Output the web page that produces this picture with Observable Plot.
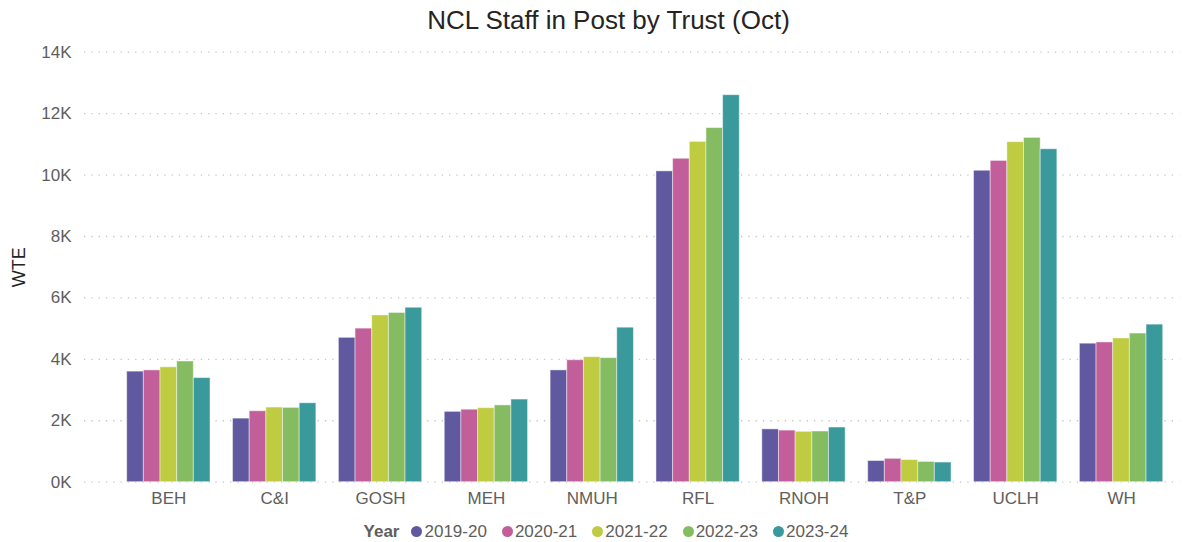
<!DOCTYPE html>
<html><head><meta charset="utf-8">
<script src="https://cdn.jsdelivr.net/npm/d3@7"></script>
<script src="https://cdn.jsdelivr.net/npm/@observablehq/plot@0.6"></script>
<style>
html,body{margin:0;padding:0;background:#fff;font-family:"Liberation Sans",Arial,sans-serif;}
#wrap{width:1183px;height:542px;overflow:hidden;position:relative;}
#title{height:38px;line-height:40px;font-size:26px;color:#252423;text-align:center;padding-left:34px;box-sizing:border-box;width:1183px;white-space:nowrap;}
#chart{height:478px;}
#chart svg{display:block;}
#legend{height:26px;box-sizing:border-box;padding-top:5px;padding-left:29px;width:1183px;display:flex;justify-content:center;align-items:center;font-size:17px;color:#605E5C;white-space:nowrap;}
#legend .head{font-weight:bold;margin-right:12px;}
#legend .item{display:flex;align-items:center;margin-right:15px;}
#legend .item:last-child{margin-right:0;}
#legend .dot{width:11px;height:11px;border-radius:50%;margin-right:2px;}
</style></head><body>
<div id="wrap">
<div id="title">NCL Staff in Post by Trust (Oct)</div>
<div id="chart"></div>
<div id="legend"></div>
</div>
<script>
const trusts = ["BEH","C&I","GOSH","MEH","NMUH","RFL","RNOH","T&P","UCLH","WH"];
const years = ["2019-20","2020-21","2021-22","2022-23","2023-24"];
const wte2019_20 = [3600,2070,4700,2290,3640,10120,1720,690,10140,4510];
const wte2020_21 = [3640,2310,5000,2360,3970,10530,1680,760,10460,4550];
const wte2021_22 = [3740,2430,5430,2410,4070,11080,1640,720,11070,4680];
const wte2022_23 = [3930,2420,5510,2500,4040,11530,1650,660,11210,4840];
const wte2023_24 = [3390,2570,5680,2690,5030,12600,1780,640,10840,5130];
const series = [wte2019_20, wte2020_21, wte2021_22, wte2022_23, wte2023_24];
const colors = ["#6159A0","#C25E9A","#BFCB41","#86BC61","#3A999B"];
const yTicks = [0,2000,4000,6000,8000,10000,12000,14000];

const rows = [];
years.forEach((y, j) => trusts.forEach((t, i) => rows.push({trust: t, year: y, value: series[j][i]})));

const W = 1183, H = 478, mL = 84, mR = 3.7, mT = 13.7, mB = 34.3;
const pInner = 0.213, pOuter = 0.28, align = 0.72;
const step = (W - mL - mR) / (trusts.length - pInner + 2 * pOuter);
const bw = step * (1 - pInner);
const bar = bw / years.length;

const marks = [
  Plot.ruleY(yTicks, {stroke: "#c6c6c6", strokeWidth: 1.3, strokeDasharray: "1.3,6", strokeOpacity: 1})
];
years.forEach((y, j) => {
  marks.push(Plot.barY(rows.filter(d => d.year === y), {
    x: "trust", y: "value", fill: "year",
    insetLeft: j * bar, insetRight: (years.length - 1 - j) * bar,
    stroke: "#ffffff", strokeOpacity: 0.45, strokeWidth: 1
  }));
});

const chart = Plot.plot({
  width: W, height: H,
  marginLeft: mL, marginRight: mR, marginTop: mT, marginBottom: mB,
  style: {fontSize: "17px", fontFamily: '"Liberation Sans", Arial, sans-serif', color: "#605E5C", background: "#fff"},
  x: {domain: trusts, paddingInner: pInner, paddingOuter: pOuter, align: align, round: false, tickSize: 0, tickPadding: 10, label: null},
  y: {domain: [0, 14000], ticks: yTicks, tickFormat: d => `${d / 1000}K`, tickSize: 0, tickPadding: 13,
      label: "WTE", labelAnchor: "center", labelOffset: 72, labelArrow: false},
  color: {domain: years, range: colors},
  marks
});
document.getElementById("chart").appendChild(chart);

chart.querySelectorAll("text").forEach(t => {
  if (t.textContent.trim() === "WTE") {
    t.setAttribute("fill", "#252423");
    t.style.fill = "#252423";
    t.style.fontSize = "18px";
  }
});

const legend = document.getElementById("legend");
const head = document.createElement("span");
head.className = "head"; head.textContent = "Year";
legend.appendChild(head);
years.forEach((y, j) => {
  const it = document.createElement("span"); it.className = "item";
  const dot = document.createElement("span"); dot.className = "dot"; dot.style.background = colors[j];
  const lab = document.createElement("span"); lab.textContent = y;
  it.appendChild(dot); it.appendChild(lab); legend.appendChild(it);
});
</script>
</body></html>
